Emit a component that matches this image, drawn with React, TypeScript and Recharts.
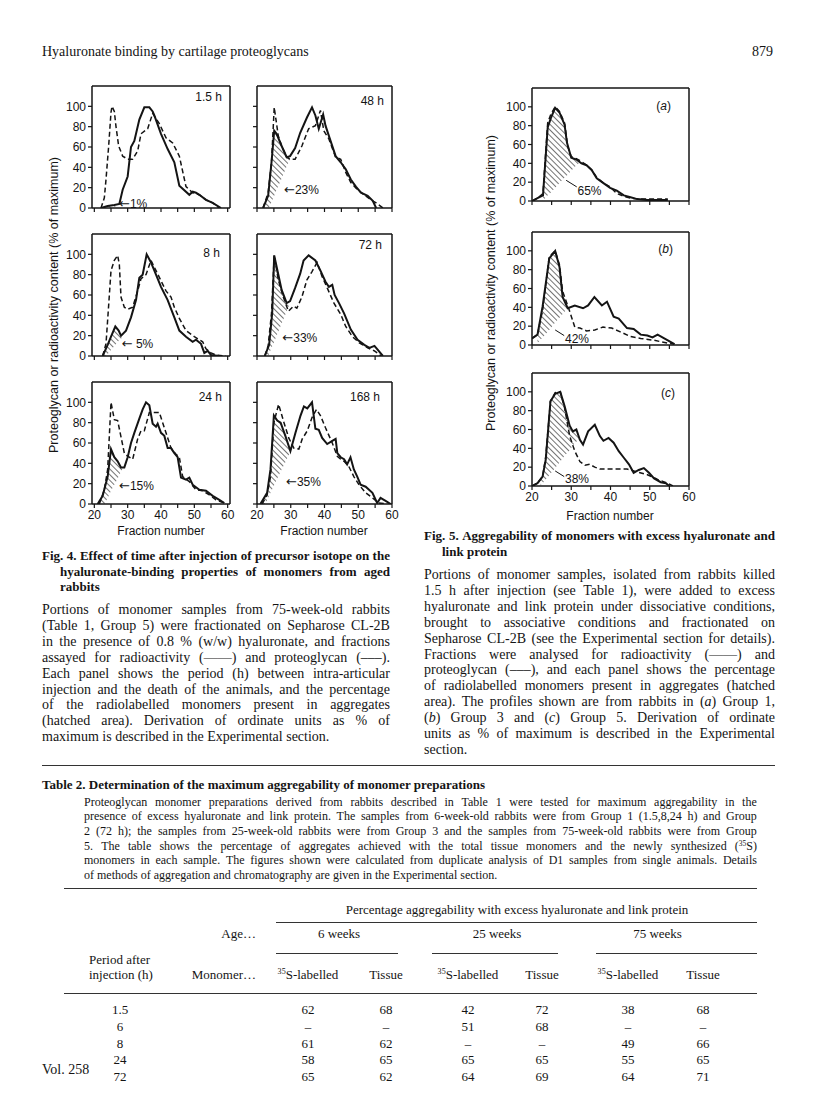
import React from 'react';
import { ComposedChart, Line, Area, XAxis, YAxis, ReferenceDot, ReferenceLine } from 'recharts';

type P = [number, number];
type H = [number, number, number];

// ---------- Fig. 4 data (fraction number, % of maximum) ----------
const rad_1_5h: P[] = [[22,0],[24,2],[26,3],[27.5,4],[28.5,18],[30,31],[31,60],[32,66],[33.5,87],[35,99],[36.5,99],[37.5,95],[38,91],[40,73],[42,58],[44,45],[45.5,22],[48.5,13],[49.5,16],[50.5,15],[51.5,13],[53.5,8],[55.5,5],[58,0]];
const pg_1_5h: P[] = [[22,0],[23,10],[23.5,28],[24.3,61],[25,94],[25.3,100],[26,95],[26.5,80],[27.3,61],[28.5,51],[30,48],[31.5,48],[33,56],[34,73],[36,78],[37.5,93],[39.5,83],[41.5,69],[43.5,64],[45.5,51],[46.5,36],[47.5,21],[49.5,15],[51.5,13],[53.5,8],[55.5,5],[57.5,0]];
const hatch_1_5h: H[] = [[23,0,1],[24,0,2],[26,1,3],[27.3,3,4]];

const rad_48h: P[] = [[21.8,0],[23.3,12],[24.3,45],[25.1,76],[25.8,73],[27.3,61],[28.8,50],[29.8,51],[31.3,59],[32.8,74],[34.8,89],[36.3,99],[37.3,91],[38.3,78],[39.6,92],[40.3,81],[41.3,71],[43.3,51],[44.8,45],[46.3,38],[47.8,28],[49.3,21],[50.8,15],[52.8,12],[54.3,7],[55.3,0]];
const pg_48h: P[] = [[21.8,0],[23.3,15],[24.3,45],[25.1,99],[26.3,71],[27.3,61],[28.8,50],[29.8,48],[31.3,48],[33.3,61],[35.3,78],[37.3,81],[38.8,96],[39.8,76],[41.3,68],[43.3,50],[44.8,48],[46.3,35],[47.8,25],[49.8,18],[51.8,13],[53.8,8],[55.3,5],[57.3,0]];
const hatch_48h: H[] = [[21.8,0,0],[23.3,0,12],[23.5,0,19],[24.3,6,45],[25.1,12,76],[25.8,18,73],[27.3,29,61],[28.8,41,50],[29.8,48,51]];

const rad_8h: P[] = [[22.5,0],[24,11],[25,19],[26.3,29],[27.3,25],[28,20],[29.5,25],[31,38],[32.5,55],[33.5,77],[34.5,80],[35.7,100],[37,92],[38.5,80],[40,68],[42,55],[44,38],[45.5,25],[47.5,19],[49.5,14],[50.5,16],[52,12],[53,3],[54,5],[55,1],[57.5,0]];
const pg_8h: P[] = [[22.5,0],[23.5,12],[24.3,50],[25,84],[26,94],[27,99],[27.5,90],[28,58],[29,48],[30,46],[31.5,48],[33,64],[34,76],[35.5,80],[37,94],[38.5,84],[40,74],[41.5,64],[43,58],[44,48],[45.5,37],[47.5,25],[50,19],[51.5,16],[52.5,14],[53.5,7],[55,3],[56.5,1],[59.5,0]];
const hatch_8h: H[] = [[22.5,0,0],[23.5,0,7],[24,2,11],[25,6,19],[26.3,11,29],[27.3,15,25],[28,17,20],[28.5,19,22]];

const rad_72h: P[] = [[22.3,0],[23.6,11],[24.5,42],[25.1,99],[25.8,88],[27.3,65],[28.8,52],[29.8,54],[31.3,67],[32.8,81],[33.8,94],[35.3,99],[37.3,94],[38.8,84],[40.3,73],[41.3,68],[42.3,70],[43,60],[44.3,52],[45.8,42],[47.8,26],[49.8,16],[51.8,11],[53.3,8],[54.8,10],[55.8,6],[57.3,0]];
const pg_72h: P[] = [[22.3,0],[23.3,10],[24.3,42],[25.1,99],[26.3,75],[27.8,58],[29.3,44],[30.8,49],[31.8,47],[33.3,58],[34.8,75],[36.3,83],[37.8,92],[39.3,78],[40.8,67],[42.8,52],[44.8,41],[46.3,29],[48.3,19],[50.3,13],[52.8,8],[54.8,5],[56.8,0]];
const hatch_72h: H[] = [[22.3,0,0],[23.3,0,8],[24.3,8,35],[25.1,14,99],[25.8,20,88],[27.3,32,65],[28.8,44,52],[29.5,50,53]];

const rad_24h: P[] = [[21,0],[22.5,8],[24,27],[25,54],[26,46],[27,42],[28,36],[29,36],[30,46],[31,60],[32,70],[33.5,84],[34.5,93],[35.5,100],[36.5,97],[37.5,79],[38.5,76],[39,79],[40,70],[41,67],[42,55],[43,55],[44,50],[45,46],[46,26],[47.5,24],[48.5,26],[49.5,19],[51.5,14],[53.5,13],[55.5,8],[57.5,4],[59,1]];
const pg_24h: P[] = [[21.5,0],[23,14],[24,34],[25,100],[26,83],[27,82],[27.5,74],[29,50],[30,47],[31.5,44],[33,64],[34,72],[35,72],[36.5,90],[38,90],[39.5,90],[40.5,80],[41.5,70],[43,55],[44.5,49],[45.5,46],[46.5,27],[48.5,22],[50.5,14],[52.5,13],[54.5,9],[56.5,4],[59,1]];
const hatch_24h: H[] = [[21,0,0],[22.5,0,8],[23,0,14],[24,6,27],[25,13,54],[26,19,46],[27,25,42],[28,32,36],[28.5,35,36]];

const rad_168h: P[] = [[21,0],[23,11],[24,34],[25,87],[26,82],[27,80],[28.4,67],[29.9,52],[31.4,70],[32.9,87],[33.9,96],[34.9,94],[36.3,100],[37.3,74],[38.3,73],[39.3,65],[40.8,59],[42.3,62],[43.3,64],[43.8,50],[44.8,46],[45.8,44],[46.7,39],[47.7,46],[48.7,34],[49.7,27],[50.7,19],[52.2,17],[54.2,11],[55.6,1],[56.6,6],[58.1,3],[59.6,0]];
const pg_168h: P[] = [[21.5,0],[23,9],[24,27],[25,80],[26.4,98],[28,80],[29.4,65],[30.9,55],[32.4,54],[33.4,64],[34.9,72],[36.3,85],[37.6,93],[38.8,87],[40.3,75],[42.3,60],[43.8,47],[44.8,44],[45.8,42],[47.2,37],[48.7,27],[50.2,19],[52.2,11],[54.2,6],[56.1,1],[58.6,0]];
const hatch_168h: H[] = [[21,0,0],[22.5,0,8],[23,4,11],[24,11,34],[25,18,87],[26,25,82],[27,32,80],[28.4,41,67],[29.9,52,52]];

// ---------- Fig. 5 data ----------
const rad_a: P[] = [[20,0],[21.4,3],[22.8,6],[24,78],[24.8,88],[25.9,99],[27,94],[28.3,81],[28.9,62],[30,46],[31.3,44],[32.6,40],[33.9,38],[35.2,33],[36.5,24],[38.2,19],[39.9,14],[41.6,11],[43.4,6],[45.1,4],[46.8,2],[49.4,1],[52,1],[54.6,1]];
const pg_a: P[] = [[20,0],[21.4,3],[22.8,8],[24,83],[24.8,92],[25.9,100],[27,95],[28.3,83],[29.1,58],[30,47],[31.3,45],[32.6,42],[33.9,38],[35.2,33],[36.5,25],[38.2,19],[39.9,15],[41.6,8],[43.4,5],[45.1,3],[47.7,2],[50.3,2],[54.6,2]];
const hatch_a: H[] = [[22.7,0,6],[24,6,78],[24.8,9,88],[25.9,14,99],[27,19,94],[28.3,25,81],[28.9,27,62],[30,32,46],[31.3,38,44],[32.2,41,41]];

const rad_b: P[] = [[20,7],[21.4,11],[22.7,41],[24.4,92],[25.9,100],[27,83],[27.8,51],[29.1,39],[30.9,42],[33,39],[34.3,42],[35.9,51],[37.8,42],[39.1,46],[40.8,30],[42.1,28],[44.2,18],[45.9,17],[47.7,11],[49.4,10],[50.7,8],[52,11],[54.6,5],[56.3,1]];
const pg_b: P[] = [[20,7],[21.4,11],[22.7,37],[24.4,94],[25.9,100],[27,85],[27.8,57],[29.5,37],[30.9,19],[32.2,18],[33.9,15],[36,16],[38.1,19],[40.3,18],[42.5,14],[45.1,9],[47.7,7],[51.1,5],[54.6,2],[56.3,1]];
const hatch_b: H[] = [[21.4,2,11],[22.7,8,41],[24.4,16,92],[25.9,24,100],[27,29,83],[27.8,33,51],[29.1,39,39]];

const rad_c: P[] = [[20,0],[21.4,3],[22.7,10],[23.5,28],[24.7,90],[25.9,98],[27.2,100],[28.3,85],[29.6,64],[30.4,58],[31.3,60],[32.2,49],[33,44],[34.3,58],[36,65],[37.3,53],[38.2,48],[39.5,51],[40.8,46],[42.1,37],[43.4,30],[44.7,23],[45.9,14],[47.2,17],[48.5,19],[49.8,14],[51.1,8],[52.8,4],[54.1,3],[55,0]];
const pg_c: P[] = [[20,0],[21.4,3],[22.7,10],[23.5,31],[24.7,90],[25.9,99],[27.2,100],[28.3,83],[29.6,53],[30.9,37],[32.2,26],[33.5,22],[34.7,23],[36,20],[37.3,18],[40.8,18],[44.2,18],[46.8,15],[49.4,12],[52,7],[54.6,3],[55.9,0]];
const hatch_c: H[] = [[22.2,0,8],[22.7,3,10],[23.5,7,28],[24.7,13,90],[25.9,19,98],[27.2,26,100],[28.3,32,85],[29.6,38,64],[30.4,43,58],[31.3,47,60],[31.8,50,54]];

// ---------- axes ----------
const xTicks = [20, 25, 30, 35, 40, 45, 50, 55, 60];
const xTickLabels = [20, 30, 40, 50, 60];
const yTicks = [0, 20, 40, 60, 80, 100];
const yTickLabels = [0, 20, 40, 60, 80, 100];

const FONT_SERIF = '"Liberation Serif", "Times New Roman", serif';
const FONT_SANS = '"Liberation Sans", Arial, Helvetica, sans-serif';
const INK = '#141414';

type Note = { x: number; y: number; text: string; arrow?: boolean; from?: P; to?: P };

interface PanelProps {
  boxLeft: number; boxTop: number; boxW: number; boxH: number;
  xDomain: [number, number];
  rad: P[]; pg: P[]; hatch: H[];
  showY: boolean; showX: boolean;
  note: Note;
}

function NoteLabel(props: any) {
  const vb = props.viewBox || {};
  const x = (vb.x || 0) + (vb.width || 0) / 2;
  const y = (vb.y || 0) + (vb.height || 0) / 2;
  const { text, arrow } = props;
  return (
    <text x={x} y={y} dy="0.35em" fill={INK} fontSize={12} fontFamily={FONT_SANS}>
      {arrow ? <tspan fontFamily='"DejaVu Sans", sans-serif' fontSize={13}>←</tspan> : null}
      <tspan>{text}</tspan>
    </text>
  );
}

function Panel(p: PanelProps) {
  const yW = 40, mTop = 4, mRight = 12;
  const xH = p.showX ? 22 : 8;
  const width = yW + p.boxW + mRight;
  const height = mTop + p.boxH + xH;
  const radData = p.rad.map(([x, y]) => ({ x, y }));
  const pgData = p.pg.map(([x, y]) => ({ x, y }));
  const hData = p.hatch.map(([x, lo, hi]) => ({ x, r: [lo, hi] }));
  const axisStyle = { stroke: INK, strokeWidth: 1.5 };
  const tickStyle = { fill: INK, fontSize: 12, fontFamily: FONT_SANS };
  return (
    <div style={{ position: 'absolute', left: p.boxLeft - yW, top: p.boxTop - mTop }}>
      <ComposedChart width={width} height={height} margin={{ top: mTop, right: mRight, left: 0, bottom: 0 }}>
        <XAxis dataKey="x" type="number" domain={p.xDomain} ticks={xTicks} interval={0} allowDataOverflow
          height={xH} axisLine={axisStyle} tickLine={{ stroke: INK, strokeWidth: 1.2 }} tickSize={4}
          tick={tickStyle} tickFormatter={(v: number) => (p.showX && xTickLabels.includes(v) ? String(v) : '')} />
        <YAxis type="number" domain={[0, 120]} ticks={yTicks} interval={0} allowDataOverflow width={yW}
          axisLine={axisStyle} tickLine={{ stroke: INK, strokeWidth: 1.2 }} tickSize={4}
          tick={tickStyle} tickFormatter={(v: number) => (p.showY && yTickLabels.includes(v) ? String(v) : '')} />
        <ReferenceLine y={120} stroke={INK} strokeWidth={1.5} />
        <ReferenceLine x={p.xDomain[1]} stroke={INK} strokeWidth={1.5} />
        <Area data={hData} dataKey="r" type="linear" stroke="none" fill="url(#hatchPattern)" fillOpacity={1}
          isAnimationActive={false} dot={false} activeDot={false} />
        <Line data={pgData} dataKey="y" type="linear" stroke={INK} strokeWidth={1.5} strokeDasharray="5 3"
          dot={false} activeDot={false} isAnimationActive={false} />
        <Line data={radData} dataKey="y" type="linear" stroke={INK} strokeWidth={2} dot={false}
          activeDot={false} isAnimationActive={false} />
        {p.note.from && p.note.to ? (
          <ReferenceLine segment={[{ x: p.note.from[0], y: p.note.from[1] }, { x: p.note.to[0], y: p.note.to[1] }]}
            stroke={INK} strokeWidth={1} />
        ) : null}
        <ReferenceDot x={p.note.x} y={p.note.y} r={0} fill="none" stroke="none"
          label={<NoteLabel text={p.note.text} arrow={p.note.arrow} />} />
      </ComposedChart>
    </div>
  );
}

// ---------- text helpers ----------
function renderToken(t: string, i: number) {
  const k = t.indexOf('³⁵');
  if (k >= 0) {
    return (
      <span key={i}>{t.slice(0, k)}<sup style={{ fontSize: '0.62em', lineHeight: 0, verticalAlign: '0.5em' }}>35</sup>{t.slice(k + 2)}</span>
    );
  }
  const m = t.match(/^\(([abc])\)(.*)$/);
  if (m) return <span key={i}>(<i>{m[1]}</i>){m[2]}</span>;
  return <span key={i}>{t}</span>;
}

function TLine({ x, y, w, text, size, bold, justify, lh }:
  { x: number; y: number; w?: number; text: string; size: number; bold?: boolean; justify?: boolean; lh: number }) {
  const tokens = text.split(' ');
  const base: React.CSSProperties = {
    position: 'absolute', left: x, top: y - lh / 2, height: lh, lineHeight: lh + 'px', fontSize: size,
    fontWeight: bold ? 'bold' : 'normal', fontFamily: FONT_SERIF, whiteSpace: 'pre', color: INK,
  };
  if (justify) {
    return <div style={{ ...base, width: w, display: 'flex', justifyContent: 'space-between' }}>{tokens.map(renderToken)}</div>;
  }
  return <div style={base}>{tokens.map((t, i) => <React.Fragment key={i}>{i > 0 ? ' ' : ''}{renderToken(t, i)}</React.Fragment>)}</div>;
}

function Para({ x, y0, gap, w, lines, size, bold, indent }:
  { x: number; y0: number; gap: number; w: number; lines: string[]; size: number; bold?: boolean; indent?: number }) {
  return (
    <>
      {lines.map((l, i) => {
        const ix = i > 0 && indent ? indent : 0;
        return <TLine key={i} x={x + ix} y={y0 + gap * i} w={w - ix} text={l} size={size} bold={bold}
          justify={i < lines.length - 1} lh={gap} />;
      })}
    </>
  );
}

function CText({ x, y, text, size, anchor }: { x: number; y: number; text: string; size: number; anchor?: 'start' | 'middle' | 'end' }) {
  const tx = anchor === 'start' ? '0' : anchor === 'end' ? '-100%' : '-50%';
  return (
    <div style={{ position: 'absolute', left: x, top: y, transform: `translate(${tx}, -50%)`, whiteSpace: 'pre',
      fontFamily: FONT_SERIF, fontSize: size, color: INK, lineHeight: '1' }}>
      {text.split(' ').map((t, i) => <React.Fragment key={i}>{i > 0 ? ' ' : ''}{renderToken(t, i)}</React.Fragment>)}
    </div>
  );
}

function Rule({ x1, x2, y, t }: { x1: number; x2: number; y: number; t?: number }) {
  return <div style={{ position: 'absolute', left: x1, top: y, width: x2 - x1, height: t || 1, background: '#333' }} />;
}

function SansLabel({ x, y, text, size, anchor, rotate, italicParen }:
  { x: number; y: number; text: string; size: number; anchor?: 'start' | 'middle' | 'end'; rotate?: boolean; italicParen?: boolean }) {
  const tx = anchor === 'start' ? '0' : anchor === 'end' ? '-100%' : '-50%';
  const content = italicParen ? <>(<i>{text}</i>)</> : text;
  return (
    <div style={{ position: 'absolute', left: x, top: y, transform: rotate ? 'translate(-50%, -50%) rotate(-90deg)' : `translate(${tx}, -50%)`,
      whiteSpace: 'nowrap', fontFamily: FONT_SANS, fontSize: size, color: INK, lineHeight: '1' }}>
      {content}
    </div>
  );
}

// ---------- text content ----------
const fig4CaptionLines = [
  'Fig. 4. Effect of time after injection of precursor isotope on the',
  'hyaluronate-binding properties of monomers from aged',
  'rabbits',
];
const fig4TextLines = [
  'Portions of monomer samples from 75-week-old rabbits',
  '(Table 1, Group 5) were fractionated on Sepharose CL-2B',
  'in the presence of 0.8 % (w/w) hyaluronate, and fractions',
  'assayed for radioactivity (——) and proteoglycan (–––).',
  'Each panel shows the period (h) between intra-articular',
  'injection and the death of the animals, and the percentage',
  'of the radiolabelled monomers present in aggregates',
  '(hatched area). Derivation of ordinate units as % of',
  'maximum is described in the Experimental section.',
];
const fig5CaptionLines = [
  'Fig. 5. Aggregability of monomers with excess hyaluronate and',
  'link protein',
];
const fig5TextLines = [
  'Portions of monomer samples, isolated from rabbits killed',
  '1.5 h after injection (see Table 1), were added to excess',
  'hyaluronate and link protein under dissociative conditions,',
  'brought to associative conditions and fractionated on',
  'Sepharose CL-2B (see the Experimental section for details).',
  'Fractions were analysed for radioactivity (——) and',
  'proteoglycan (–––), and each panel shows the percentage',
  'of radiolabelled monomers present in aggregates (hatched',
  'area). The profiles shown are from rabbits in (a) Group 1,',
  '(b) Group 3 and (c) Group 5. Derivation of ordinate',
  'units as % of maximum is described in the Experimental',
  'section.',
];
const table2TextLines = [
  'Proteoglycan monomer preparations derived from rabbits described in Table 1 were tested for maximum aggregability in the',
  'presence of excess hyaluronate and link protein. The samples from 6-week-old rabbits were from Group 1 (1.5,8,24 h) and Group',
  '2 (72 h); the samples from 25-week-old rabbits were from Group 3 and the samples from 75-week-old rabbits were from Group',
  '5. The table shows the percentage of aggregates achieved with the total tissue monomers and the newly synthesized (³⁵S)',
  'monomers in each sample. The figures shown were calculated from duplicate analysis of D1 samples from single animals. Details',
  'of methods of aggregation and chromatography are given in the Experimental section.',
];

// ---------- Table 2 data ----------
const tablePeriods = ['1.5', '6', '8', '24', '72'];
const tableAges = ['6 weeks', '25 weeks', '75 weeks'];
const tableSubHeads = ['³⁵S-labelled', 'Tissue', '³⁵S-labelled', 'Tissue', '³⁵S-labelled', 'Tissue'];
const tableRows: string[][] = [
  ['62', '68', '42', '72', '38', '68'],
  ['–', '–', '51', '68', '–', '–'],
  ['61', '62', '–', '–', '49', '66'],
  ['58', '65', '65', '65', '55', '65'],
  ['65', '62', '64', '69', '64', '71'],
];

export default function App() {
  const L4 = { boxLeft: 92, boxW: 138, xDomain: [19.3, 60.7] as [number, number] };
  const R4 = { boxLeft: 257, boxW: 135, xDomain: [20, 60] as [number, number] };
  const F5 = { boxLeft: 532, boxW: 157, xDomain: [20, 60] as [number, number] };
  const rows4 = [86, 234, 382];
  const rows5 = [88, 232, 373];
  const h4 = 122, h5 = 113;

  const colX = [120, 308, 386, 468, 542, 628, 703];
  const rowY = [1009, 1026, 1043, 1059, 1076];

  return (
    <div style={{ position: 'absolute', left: 0, top: 0, width: 816, height: 1103, background: '#fff', overflow: 'hidden' }}>
      <svg width={0} height={0} style={{ position: 'absolute' }}>
        <defs>
          <pattern id="hatchPattern" patternUnits="userSpaceOnUse" width={4} height={4} patternTransform="rotate(-45)">
            <line x1={0} y1={0} x2={0} y2={4} stroke={INK} strokeWidth={1.2} />
          </pattern>
        </defs>
      </svg>

      {/* running head */}
      <TLine x={42} y={52} text="Hyaluronate binding by cartilage proteoglycans" size={14} lh={16} />
      <TLine x={752} y={52} text="879" size={14} lh={16} />

      {/* Fig. 4 panels */}
      <Panel {...L4} boxTop={rows4[0]} boxH={h4} rad={rad_1_5h} pg={pg_1_5h} hatch={hatch_1_5h} showY showX={false}
        note={{ x: 27.4, y: 4, text: '1%', arrow: true }} />
      <Panel {...R4} boxTop={rows4[0]} boxH={h4} rad={rad_48h} pg={pg_48h} hatch={hatch_48h} showY={false} showX={false}
        note={{ x: 28.0, y: 18, text: '23%', arrow: true }} />
      <Panel {...L4} boxTop={rows4[1]} boxH={h4} rad={rad_8h} pg={pg_8h} hatch={hatch_8h} showY showX={false}
        note={{ x: 28.2, y: 12, text: ' 5%', arrow: true }} />
      <Panel {...R4} boxTop={rows4[1]} boxH={h4} rad={rad_72h} pg={pg_72h} hatch={hatch_72h} showY={false} showX={false}
        note={{ x: 27.5, y: 18, text: '33%', arrow: true }} />
      <Panel {...L4} boxTop={rows4[2]} boxH={h4} rad={rad_24h} pg={pg_24h} hatch={hatch_24h} showY showX
        note={{ x: 27.4, y: 18, text: '15%', arrow: true }} />
      <Panel {...R4} boxTop={rows4[2]} boxH={h4} rad={rad_168h} pg={pg_168h} hatch={hatch_168h} showY={false} showX
        note={{ x: 28.6, y: 22, text: '35%', arrow: true }} />

      <SansLabel x={222} y={rows4[0] + 11} text="1.5 h" size={12} anchor="end" />
      <SansLabel x={384} y={rows4[0] + 15} text="48 h" size={12} anchor="end" />
      <SansLabel x={220} y={rows4[1] + 19} text="8 h" size={12} anchor="end" />
      <SansLabel x={382} y={rows4[1] + 11} text="72 h" size={12} anchor="end" />
      <SansLabel x={222} y={rows4[2] + 15} text="24 h" size={12} anchor="end" />
      <SansLabel x={380} y={rows4[2] + 15} text="168 h" size={12} anchor="end" />

      <SansLabel x={54} y={305} text="Proteoglycan or radioactivity content (% of maximum)" size={12.5} rotate />
      <SansLabel x={161} y={531} text="Fraction number" size={12} />
      <SansLabel x={324} y={531} text="Fraction number" size={12} />

      {/* Fig. 5 panels */}
      <Panel {...F5} boxTop={rows5[0]} boxH={h5} rad={rad_a} pg={pg_a} hatch={hatch_a} showY showX={false}
        note={{ x: 31.6, y: 11, text: '65%', from: [28.7, 22], to: [31.4, 15] }} />
      <Panel {...F5} boxTop={rows5[1]} boxH={h5} rad={rad_b} pg={pg_b} hatch={hatch_b} showY showX={false}
        note={{ x: 28.4, y: 7, text: '42%', from: [25.9, 16], to: [28.2, 10] }} />
      <Panel {...F5} boxTop={rows5[2]} boxH={h5} rad={rad_c} pg={pg_c} hatch={hatch_c} showY showX
        note={{ x: 28.4, y: 7.5, text: '38%', from: [25.9, 16], to: [28.2, 10] }} />

      <SansLabel x={671} y={rows5[0] + 18} text="a" size={12} anchor="end" italicParen />
      <SansLabel x={673} y={rows5[1] + 17} text="b" size={12} anchor="end" italicParen />
      <SansLabel x={675} y={rows5[2] + 20} text="c" size={12} anchor="end" italicParen />

      <SansLabel x={491} y={283} text="Proteoglycan or radioactivity content (% of maximum)" size={12.5} rotate />
      <SansLabel x={610} y={516} text="Fraction number" size={12} />

      {/* captions and legends */}
      <Para x={42} y0={556} gap={15.5} w={348} lines={fig4CaptionLines} size={13} bold indent={18} />
      <Para x={42} y0={610} gap={15.9} w={348} lines={fig4TextLines} size={14} />
      <Para x={424} y0={536} gap={15.5} w={351} lines={fig5CaptionLines} size={13} bold indent={18} />
      <Para x={424} y0={575} gap={15.9} w={351} lines={fig5TextLines} size={14} />

      <Rule x1={42} x2={775} y={765} />

      {/* Table 2 */}
      <TLine x={42} y={785} text="Table 2. Determination of the maximum aggregability of monomer preparations" size={13} bold lh={16} />
      <Para x={84} y0={802} gap={14.6} w={673} lines={table2TextLines} size={12} />

      <Rule x1={64} x2={757} y={888} />
      <CText x={517} y={909} text="Percentage aggregability with excess hyaluronate and link protein" size={13} />
      <Rule x1={276} x2={757} y={922} />
      <CText x={256} y={933} text="Age…" size={13} anchor="end" />
      {tableAges.map((a, i) => (
        <CText key={a} x={(colX[1 + 2 * i] + colX[2 + 2 * i]) / 2 - 8} y={933} text={a} size={13} />
      ))}
      <Rule x1={276} x2={398} y={953} />
      <Rule x1={432} x2={558} y={953} />
      <Rule x1={596} x2={757} y={953} />
      <CText x={89} y={959} text="Period after" size={13} anchor="start" />
      <CText x={89} y={974} text="injection (h)" size={13} anchor="start" />
      <CText x={256} y={974} text="Monomer…" size={13} anchor="end" />
      {tableSubHeads.map((h, i) => (
        <CText key={i} x={colX[i + 1]} y={974} text={h} size={13} />
      ))}
      <Rule x1={64} x2={757} y={993} />
      {tablePeriods.map((p, r) => (
        <React.Fragment key={p}>
          <CText x={colX[0]} y={rowY[r]} text={p} size={13} />
          {tableRows[r].map((v, c) => (
            <CText key={c} x={colX[c + 1]} y={rowY[r]} text={v} size={13} />
          ))}
        </React.Fragment>
      ))}

      <TLine x={42} y={1070} text="Vol. 258" size={14} lh={16} />
    </div>
  );
}
